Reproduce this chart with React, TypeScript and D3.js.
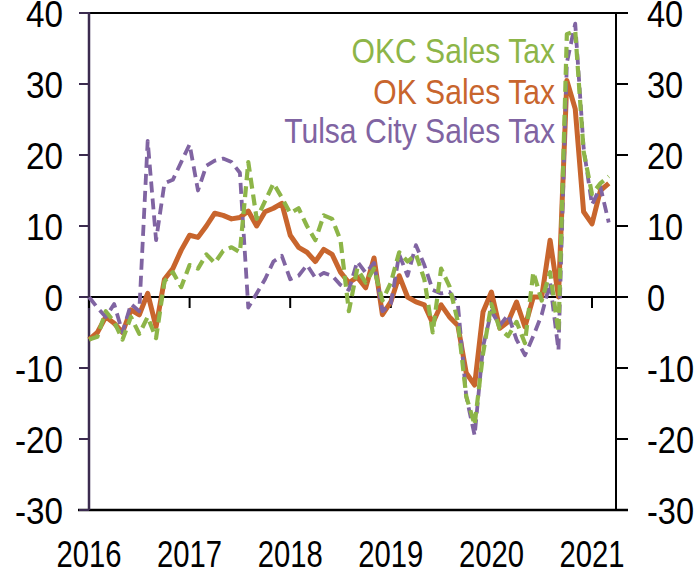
import React from 'react';
import * as d3 from 'd3';

// monthly % change, Jan 2016 .. Mar 2021
const okSalesTax = [
  -6, -5, -2.8, -3.7, -5, -1.8, -2.5, 0.5, -4.2, 2.5, 4, 6.6,
  8.7, 8.4, 10, 11.8, 11.5, 11, 11.2, 12.1, 10, 12, 12.5, 13.2,
  8.7, 7, 6.3, 5, 6.7, 6, 3.5, 2, 2.8, 1.3, 5.5, -2.5,
  -0.7, 3, 0, -0.7, -1.1, -3.7, -1.1, -2.8, -4, -10.7, -12.4, -2.1,
  0.7, -4.4, -3.5, -0.7, -4.2, 0, 0, 8, 0, 30.5, 26.5, 12,
  10.3, 15, 16,
];
const okcSalesTax = [
  -6, -5.6, -2, -3.5, -6, -2.8, -5.2, -2.8, -5.8, 2.2, 3.5, 1.4,
  4.5, 4, 6, 4.8, 6.5, 7, 6.3, 19, 11, 13.5, 16, 14,
  11.8, 12.5, 10, 8, 11.5, 11, 8, -2, 4, 2, 4, -0.5,
  2, 6.3, 5, 6, 2.5, -5, 4, 1.5, -3.5, -14, -18, -8,
  -1, -4.5, -5.5, -3.5, -6.5, 3.5, -0.5, 3.5, -5, 37, 37.5, 20.5,
  14.5, 16, 17,
];
const tulsaSalesTax = [
  0, -1.5, -2.8, -1, -5, -1, -2, 22, 8, 16, 16.5, 19,
  21.5, 15, 18.5, 19.2, 19.5, 19, 17.5, -1.5, 0.5, 2.5, 5, 5.8,
  2.5, 3, 4.5, 2.7, 3.4, 3, 1.7, 1, 5, 3.4, 4.8, -2,
  -1, 6, 3, 7.3, 4.5, 1, 0.5, 0.7, -1, -14, -19.5, -7,
  -2, -4, -2.5, -6, -8.2, -5.5, -2.5, 2, -7.5, 33, 38.5, 21,
  13, 15.5, 10.5,
];
const yearLabels = ['2016', '2017', '2018', '2019', '2020', '2021'];
const yTicks = [-30, -20, -10, 0, 10, 20, 30, 40];

const series = [
  { name: 'OK Sales Tax', values: okSalesTax, color: '#c8652d', width: 5, dash: null },
  { name: 'Tulsa City Sales Tax', values: tulsaSalesTax, color: '#8064a2', width: 3.8, dash: '11,6' },
  { name: 'OKC Sales Tax', values: okcSalesTax, color: '#8db548', width: 4.2, dash: '11,6' },
];
const legend = [
  { name: 'OKC Sales Tax', color: '#8db548' },
  { name: 'OK Sales Tax', color: '#c8652d' },
  { name: 'Tulsa City Sales Tax', color: '#8064a2' },
];

const W = 700;
const H = 574;
const left = 89;
const right = 616;
const top = 13;
const bottom = 510;

// condensed text, like the narrow font of the original
const Label = ({ x, y, anchor, size, sx, fill = '#000', children }: any) => (
  <text transform={`translate(${x},${y}) scale(${sx},1)`} textAnchor={anchor} fontSize={size} fill={fill}>
    {children}
  </text>
);

export default function App() {
  const x = d3.scaleLinear().domain([0, 60]).range([left, 592]);
  const y = d3.scaleLinear().domain([-30, 40]).range([bottom, top]);
  const line = d3.line<number>().x((d, i) => x(i)).y(d => y(d));
  const font = '"Liberation Sans", Arial, sans-serif';

  return (
    <svg width={W} height={H} style={{ position: 'absolute', left: 0, top: 0, background: '#fff' }}
      fontFamily={font}>
      {/* frame */}
      <line x1={left} x2={right} y1={top} y2={top} stroke="#000" strokeWidth={2} />
      <line x1={right} x2={right} y1={top} y2={bottom} stroke="#000" strokeWidth={2} />
      <line x1={78} x2={628} y1={bottom} y2={bottom} stroke="#000" strokeWidth={2.5} />
      {yTicks.map(t => (
        <g key={t}>
          <line x1={79} x2={left} y1={y(t)} y2={y(t)} stroke="#3b2b4f" strokeWidth={2} />
          <line x1={right} x2={628} y1={y(t)} y2={y(t)} stroke="#000" strokeWidth={2} />
          <Label x={63} y={y(t) + 14} anchor="end" size={37} sx={0.9}>{t}</Label>
          <Label x={647} y={y(t) + 14} anchor="start" size={37} sx={0.88}>{t}</Label>
        </g>
      ))}
      <line x1={left} x2={left} y1={top - 1} y2={bottom} stroke="#3b2b4f" strokeWidth={2.5} />

      {/* zero axis with year ticks */}
      <line x1={left} x2={right} y1={y(0)} y2={y(0)} stroke="#000" strokeWidth={2} />
      {yearLabels.map((lab, k) => (
        <g key={lab}>
          <line x1={x(k * 12)} x2={x(k * 12)} y1={y(0)} y2={y(0) + 11} stroke="#000" strokeWidth={2} />
          <Label x={x(k * 12)} y={567} anchor="middle" size={37} sx={0.79}>{lab}</Label>
        </g>
      ))}

      {series.map(s => (
        <path key={s.name} d={line(s.values) || ''} fill="none" stroke={s.color}
          strokeWidth={s.width} strokeDasharray={s.dash || undefined} strokeLinejoin="round" />
      ))}

      {legend.map((l, k) => (
        <Label key={l.name} x={555} y={[63, 104, 143][k]} anchor="end" size={35} sx={0.86} fill={l.color}>
          {l.name}
        </Label>
      ))}
    </svg>
  );
}
